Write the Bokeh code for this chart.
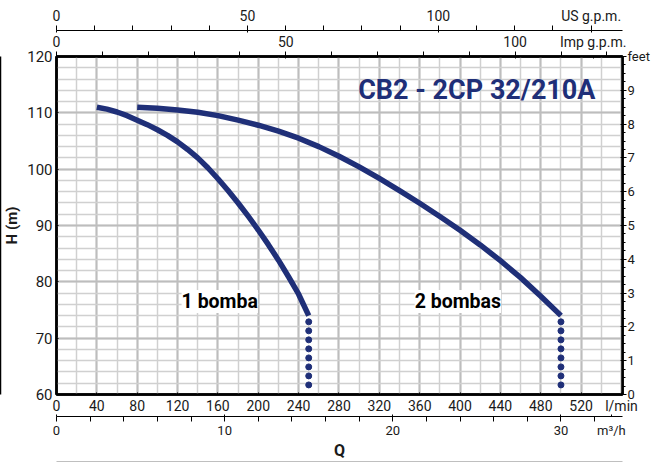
from bokeh.plotting import figure
from bokeh.models import Range1d, LinearAxis, FixedTicker, Label
from bokeh.embed import file_html
from bokeh.resources import INLINE

# ---- data ----
q_one = [40, 50, 60, 70, 80, 90, 100, 110, 120, 130, 140, 150, 160, 170, 180, 190, 200,
         210, 220, 230, 240, 250]
h_one = [111.0, 110.65, 110.15, 109.5, 108.7, 107.9, 107.0, 106.0, 104.85, 103.5, 102.0, 100.25,
         98.3, 96.2, 94.0, 91.65, 89.2, 86.6, 83.85, 80.9, 77.8, 74.0]
q_two = [80, 100, 120, 140, 160, 180, 200, 220, 240, 260, 280, 300, 320, 340, 360, 380, 400,
         420, 440, 460, 480, 500]
h_two = [111.0, 110.8, 110.5, 110.1, 109.5, 108.7, 107.8, 106.75, 105.5, 104.0, 102.3, 100.4,
         98.35, 96.2, 93.95, 91.6, 89.15, 86.55, 83.75, 80.75, 77.45, 74.0]
dots_h = [72.9, 71.3, 69.7, 68.1, 66.5, 64.9, 63.3, 61.7]
q_end = [250, 500]

lmin_ticks = [0, 40, 80, 120, 160, 200, 240, 280, 320, 360, 400, 440, 480, 520, 560]
h_ticks = [60, 70, 80, 90, 100, 110, 120]
feet_ticks = [0, 1, 2, 3, 4, 5, 6, 7, 8, 9, 10]
us_ticks = [0, 50, 100, 140]
imp_ticks = [0, 50, 100, 117]
m3h_ticks = [0, 10, 20, 30, 33]

title_text = "CB2 - 2CP 32/210A"
label_one = "1 bomba"
label_two = "2 bombas"

LPM_PER_USGPM = 3.785
LPM_PER_IMPGPM = 4.546
LPM_PER_M3H = 16.667
Q_MAX = 561

NAVY = "#1f2f78"
FONT = "Roboto"
TXT = "#1a1a1a"

p = figure(width=652, height=462, x_range=Range1d(0, Q_MAX), y_range=Range1d(60, 120),
           output_backend="svg", toolbar_location=None,
           min_border_left=56, min_border_right=27, min_border_top=56, min_border_bottom=62)
p.background_fill_color = "white"
p.border_fill_color = "white"
p.outline_line_color = "black"
p.outline_line_width = 2.5

p.extra_x_ranges = {
    "us": Range1d(0, Q_MAX / LPM_PER_USGPM),
    "imp": Range1d(0, Q_MAX / LPM_PER_IMPGPM),
    "m3h": Range1d(0, Q_MAX / LPM_PER_M3H),
}
p.extra_y_ranges = {"feet": Range1d(0, 10)}


def style(ax, size="15px"):
    ax.major_label_text_font = FONT
    ax.major_label_text_font_size = size
    ax.major_label_text_color = TXT
    ax.axis_label_text_font = FONT
    ax.axis_label_text_font_style = "bold"
    ax.axis_label_text_color = TXT


# main x axis (l/min)
xa = p.xaxis[0]
xa.ticker = FixedTicker(ticks=lmin_ticks, minor_ticks=list(range(0, 561, 20)))
xa.major_label_overrides = {560: "l/min"}
xa.axis_line_width = 2.5
xa.major_tick_out = 0
xa.minor_tick_out = 0
xa.major_label_standoff = 3
style(xa, "14px")

# main y axis (H)
ya = p.yaxis[0]
ya.ticker = FixedTicker(ticks=h_ticks, minor_ticks=list(range(60, 121, 2)))
ya.axis_label = "H (m)"
ya.axis_label_text_font_size = "15px"
ya.axis_label_standoff = 3
ya.axis_line_width = 2.5
ya.major_tick_out = 0
ya.minor_tick_out = 0
ya.major_label_standoff = 4
style(ya)

# outer decorative line on the left
yl = LinearAxis(ticker=FixedTicker(ticks=[]), axis_line_width=1.5, major_tick_out=0,
                minor_tick_out=0, major_label_standoff=0)
p.add_layout(yl, "left")

# right feet axis
fa = LinearAxis(y_range_name="feet",
                ticker=FixedTicker(ticks=feet_ticks, minor_ticks=[i * 0.25 for i in range(41)]))
fa.major_label_overrides = {10: "feet"}
fa.axis_line_width = 2.5
fa.major_tick_out = 4
fa.minor_tick_out = 3
fa.major_label_standoff = 1
style(fa, "13px")
p.add_layout(fa, "right")

# top axes
ia = LinearAxis(x_range_name="imp",
                ticker=FixedTicker(ticks=imp_ticks, minor_ticks=list(range(0, 121, 10))))
ia.major_label_overrides = {117: "Imp g.p.m."}
ia.axis_line_width = 2.5
ia.major_tick_out = 0
ia.minor_tick_out = 5
ia.major_label_standoff = 2
style(ia, "14px")
p.add_layout(ia, "above")

ua = LinearAxis(x_range_name="us",
                ticker=FixedTicker(ticks=us_ticks, minor_ticks=list(range(0, 141, 10))))
ua.major_label_overrides = {140: "US g.p.m."}
ua.axis_line_width = 1.2
ua.major_tick_out = 0
ua.minor_tick_out = 5
ua.major_label_standoff = 2
style(ua, "14px")
p.add_layout(ua, "above")

# bottom m3/h axis
ma = LinearAxis(x_range_name="m3h",
                ticker=FixedTicker(ticks=m3h_ticks, minor_ticks=list(range(0, 33, 2))))
ma.major_label_overrides = {33: "m³/h"}
ma.axis_label = "Q"
ma.axis_label_text_font_size = "16px"
ma.axis_label_standoff = 0
ma.axis_line_width = 1.2
ma.major_tick_out = 0
ma.minor_tick_out = 5
ma.major_label_standoff = 1
style(ma, "13px")
p.add_layout(ma, "below")

bl = LinearAxis(x_range_name="m3h", ticker=FixedTicker(ticks=[]), axis_line_width=1.5,
                major_tick_out=0, minor_tick_out=0, major_label_standoff=0)
p.add_layout(bl, "below")

# grids
p.xgrid.grid_line_color = "#bdbdbd"
p.xgrid.grid_line_width = 2
p.xgrid.minor_grid_line_color = "#d0d0d0"
p.xgrid.minor_grid_line_width = 1.5
p.ygrid.grid_line_color = "#bdbdbd"
p.ygrid.grid_line_width = 2
p.ygrid.minor_grid_line_color = "#d0d0d0"
p.ygrid.minor_grid_line_width = 1.5

# curves
p.line(q_one, h_one, line_width=5.5, color=NAVY, line_join="round")
p.line(q_two, h_two, line_width=5.5, color=NAVY, line_join="round")
for qe in q_end:
    p.scatter([qe] * len(dots_h), dots_h, size=6, color=NAVY)

# labels
p.add_layout(Label(x=124, y=76.5, text=label_one, text_font=FONT, text_font_style="bold",
                   text_font_size="19.5px", text_color="black", text_baseline="middle",
                   background_fill_color="white"))
p.add_layout(Label(x=355, y=76.5, text=label_two, text_font=FONT, text_font_style="bold",
                   text_font_size="19.5px", text_color="black", text_baseline="middle",
                   background_fill_color="white"))
p.add_layout(Label(x=299, y=114, text=title_text, text_font=FONT, text_font_style="bold",
                   text_font_size="27px", text_color=NAVY, text_baseline="middle"))

open("out.html", "w").write(file_html(p, INLINE))
